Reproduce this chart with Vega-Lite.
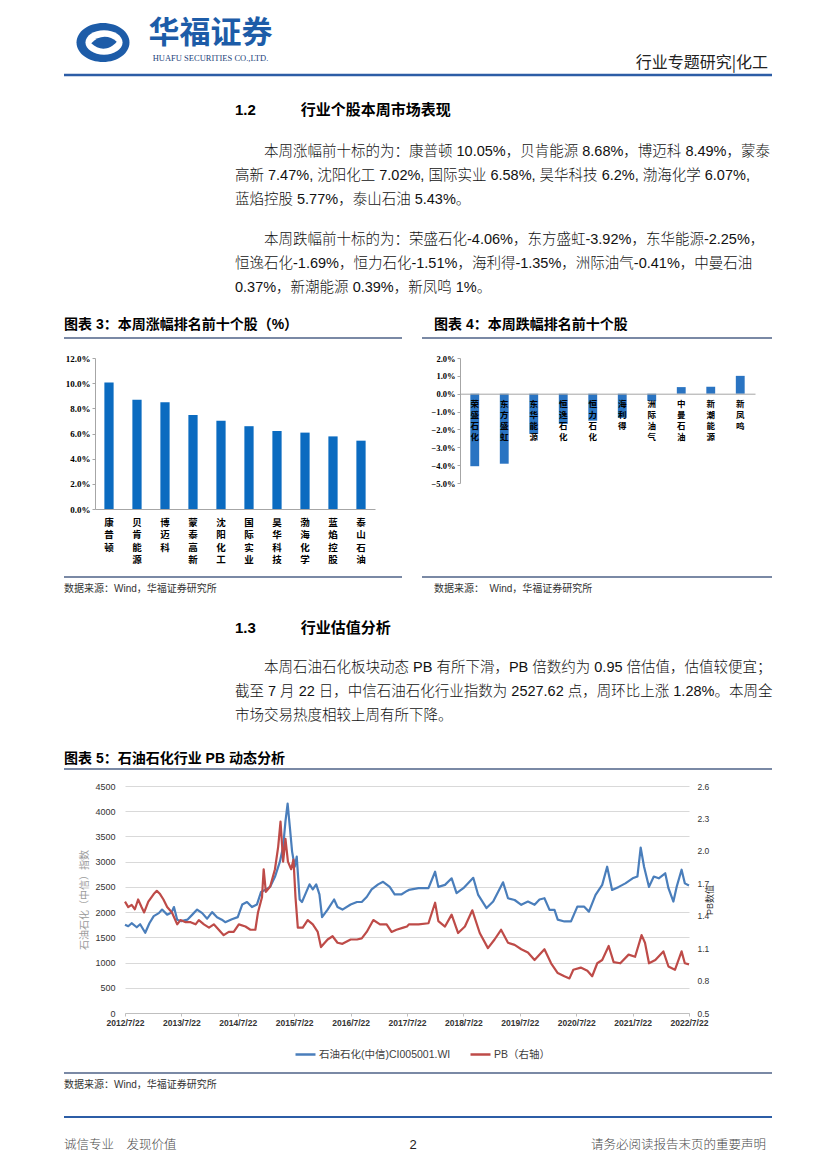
{
"$schema": "https://vega.github.io/schema/vega-lite/v6.json",
"background": "#ffffff",
"padding": {"left": 62, "top": 0, "right": 0, "bottom": 0},
"spacing": 0,
"bounds": "flush",
"config": {"view": {"stroke": null}, "font": "Noto Sans CJK SC", "concat": {"spacing": 0}},
"datasets": {
"idx": [
{"d":"2012-07-22","v":1750},{"d":"2012-08-12","v":1720},{"d":"2012-09-03","v":1780},{"d":"2012-10-06","v":1700},{"d":"2012-10-28","v":1760},{"d":"2012-11-30","v":1590},{"d":"2012-12-27","v":1780},{"d":"2013-01-24","v":1920},{"d":"2013-02-26","v":1980},{"d":"2013-03-19","v":2050},{"d":"2013-04-21","v":1950},{"d":"2013-05-19","v":1990},{"d":"2013-06-04","v":2100},{"d":"2013-06-25","v":1850},{"d":"2013-07-22","v":1820},{"d":"2013-08-30","v":1850},{"d":"2013-10-01","v":1950},{"d":"2013-11-01","v":2050},{"d":"2013-12-04","v":1980},{"d":"2014-01-05","v":1870},{"d":"2014-02-06","v":2000},{"d":"2014-03-10","v":1900},{"d":"2014-04-10","v":1850},{"d":"2014-05-02","v":1800},{"d":"2014-06-14","v":1860},{"d":"2014-07-22","v":1900},{"d":"2014-08-20","v":2150},{"d":"2014-09-20","v":2200},{"d":"2014-10-22","v":2100},{"d":"2014-11-23","v":2150},{"d":"2014-12-20","v":2400},{"d":"2015-01-20","v":2450},{"d":"2015-02-17","v":2500},{"d":"2015-03-20","v":2700},{"d":"2015-04-21","v":3000},{"d":"2015-05-12","v":3300},{"d":"2015-05-27","v":3800},{"d":"2015-06-10","v":4150},{"d":"2015-06-24","v":3700},{"d":"2015-07-09","v":3200},{"d":"2015-07-26","v":2900},{"d":"2015-08-08","v":3100},{"d":"2015-08-27","v":2250},{"d":"2015-09-11","v":2200},{"d":"2015-10-09","v":2400},{"d":"2015-10-30","v":2550},{"d":"2015-11-20","v":2450},{"d":"2015-12-12","v":2550},{"d":"2016-01-02","v":2350},{"d":"2016-01-19","v":1900},{"d":"2016-02-24","v":2050},{"d":"2016-04-06","v":2250},{"d":"2016-04-28","v":2100},{"d":"2016-05-30","v":2050},{"d":"2016-07-22","v":2150},{"d":"2016-09-01","v":2200},{"d":"2016-10-02","v":2200},{"d":"2016-11-03","v":2300},{"d":"2016-12-05","v":2450},{"d":"2017-01-16","v":2550},{"d":"2017-02-17","v":2600},{"d":"2017-04-01","v":2500},{"d":"2017-05-03","v":2350},{"d":"2017-06-15","v":2350},{"d":"2017-07-22","v":2420},{"d":"2017-08-03","v":2440},{"d":"2017-10-05","v":2475},{"d":"2017-12-08","v":2475},{"d":"2018-01-20","v":2800},{"d":"2018-02-10","v":2500},{"d":"2018-03-25","v":2540},{"d":"2018-05-07","v":2670},{"d":"2018-06-08","v":2375},{"d":"2018-07-22","v":2475},{"d":"2018-09-24","v":2680},{"d":"2018-10-26","v":2340},{"d":"2018-12-19","v":2080},{"d":"2019-01-31","v":2210},{"d":"2019-04-05","v":2590},{"d":"2019-05-07","v":2275},{"d":"2019-06-19","v":2240},{"d":"2019-08-01","v":2145},{"d":"2019-09-13","v":2210},{"d":"2019-10-26","v":2145},{"d":"2019-11-27","v":2250},{"d":"2019-12-29","v":2275},{"d":"2020-01-31","v":2045},{"d":"2020-03-03","v":2045},{"d":"2020-03-24","v":1850},{"d":"2020-05-06","v":1815},{"d":"2020-06-18","v":1815},{"d":"2020-07-29","v":2110},{"d":"2020-09-10","v":2110},{"d":"2020-10-12","v":2010},{"d":"2020-11-24","v":2340},{"d":"2021-01-06","v":2540},{"d":"2021-02-07","v":2900},{"d":"2021-03-11","v":2440},{"d":"2021-04-23","v":2500},{"d":"2021-06-05","v":2570},{"d":"2021-07-22","v":2670},{"d":"2021-08-22","v":2705},{"d":"2021-09-12","v":3280},{"d":"2021-10-04","v":2900},{"d":"2021-11-05","v":2500},{"d":"2021-12-06","v":2705},{"d":"2022-01-07","v":2670},{"d":"2022-02-18","v":2770},{"d":"2022-03-11","v":2475},{"d":"2022-04-12","v":2210},{"d":"2022-05-03","v":2500},{"d":"2022-06-04","v":2840},{"d":"2022-06-25","v":2570},{"d":"2022-07-22","v":2528}
],
"pb": [
{"d":"2012-07-22","v":1.53},{"d":"2012-08-12","v":1.48},{"d":"2012-09-03","v":1.50},{"d":"2012-09-24","v":1.46},{"d":"2012-10-15","v":1.55},{"d":"2012-11-06","v":1.48},{"d":"2012-11-23","v":1.43},{"d":"2012-12-20","v":1.53},{"d":"2013-01-24","v":1.60},{"d":"2013-02-13","v":1.63},{"d":"2013-03-06","v":1.60},{"d":"2013-03-28","v":1.55},{"d":"2013-04-21","v":1.48},{"d":"2013-05-22","v":1.43},{"d":"2013-06-25","v":1.32},{"d":"2013-07-16","v":1.36},{"d":"2013-08-19","v":1.34},{"d":"2013-09-20","v":1.34},{"d":"2013-10-22","v":1.32},{"d":"2013-11-12","v":1.36},{"d":"2013-12-15","v":1.32},{"d":"2014-01-17","v":1.29},{"d":"2014-02-17","v":1.32},{"d":"2014-03-21","v":1.27},{"d":"2014-04-22","v":1.22},{"d":"2014-05-25","v":1.25},{"d":"2014-06-26","v":1.25},{"d":"2014-07-29","v":1.32},{"d":"2014-09-10","v":1.30},{"d":"2014-10-12","v":1.27},{"d":"2014-11-13","v":1.27},{"d":"2014-11-30","v":1.43},{"d":"2014-12-26","v":1.57},{"d":"2015-01-06","v":1.83},{"d":"2015-01-20","v":1.62},{"d":"2015-02-17","v":1.67},{"d":"2015-03-20","v":1.83},{"d":"2015-04-10","v":2.04},{"d":"2015-04-25","v":2.27},{"d":"2015-05-12","v":1.90},{"d":"2015-05-27","v":2.11},{"d":"2015-06-12","v":1.90},{"d":"2015-07-03","v":1.83},{"d":"2015-07-18","v":1.92},{"d":"2015-07-31","v":1.57},{"d":"2015-08-15","v":1.29},{"d":"2015-09-16","v":1.29},{"d":"2015-10-18","v":1.36},{"d":"2015-11-20","v":1.32},{"d":"2015-12-22","v":1.25},{"d":"2016-01-12","v":1.11},{"d":"2016-02-24","v":1.18},{"d":"2016-03-27","v":1.21},{"d":"2016-04-28","v":1.15},{"d":"2016-05-30","v":1.14},{"d":"2016-07-22","v":1.18},{"d":"2016-09-01","v":1.18},{"d":"2016-10-02","v":1.19},{"d":"2016-11-03","v":1.25},{"d":"2016-12-16","v":1.36},{"d":"2017-01-28","v":1.32},{"d":"2017-03-12","v":1.32},{"d":"2017-04-13","v":1.25},{"d":"2017-05-15","v":1.27},{"d":"2017-06-28","v":1.29},{"d":"2017-07-22","v":1.30},{"d":"2017-08-03","v":1.32},{"d":"2017-10-05","v":1.32},{"d":"2017-12-08","v":1.33},{"d":"2018-01-20","v":1.52},{"d":"2018-02-10","v":1.35},{"d":"2018-03-25","v":1.30},{"d":"2018-05-07","v":1.41},{"d":"2018-06-18","v":1.24},{"d":"2018-08-01","v":1.30},{"d":"2018-09-18","v":1.45},{"d":"2018-11-05","v":1.24},{"d":"2018-12-28","v":1.10},{"d":"2019-02-09","v":1.18},{"d":"2019-03-23","v":1.27},{"d":"2019-05-07","v":1.15},{"d":"2019-06-19","v":1.13},{"d":"2019-08-01","v":1.09},{"d":"2019-09-13","v":1.06},{"d":"2019-10-26","v":0.99},{"d":"2019-12-29","v":1.09},{"d":"2020-02-10","v":0.96},{"d":"2020-03-24","v":0.87},{"d":"2020-05-06","v":0.84},{"d":"2020-06-08","v":0.82},{"d":"2020-07-03","v":0.90},{"d":"2020-08-20","v":0.92},{"d":"2020-10-02","v":0.89},{"d":"2020-11-02","v":0.84},{"d":"2020-12-05","v":0.96},{"d":"2021-01-06","v":0.99},{"d":"2021-02-17","v":1.12},{"d":"2021-03-21","v":0.97},{"d":"2021-05-03","v":0.96},{"d":"2021-06-26","v":1.04},{"d":"2021-08-07","v":1.02},{"d":"2021-09-18","v":1.22},{"d":"2021-10-10","v":1.15},{"d":"2021-11-05","v":0.96},{"d":"2021-12-16","v":0.99},{"d":"2022-02-06","v":1.07},{"d":"2022-03-11","v":0.93},{"d":"2022-04-22","v":0.90},{"d":"2022-06-04","v":1.07},{"d":"2022-06-25","v":0.96},{"d":"2022-07-22","v":0.95}
]
},
"vconcat": [
{"width": 708, "height": 75, "layer": [
  {"data": {"values": [{}]}, "mark": {"type": "point", "shape": "M-1,0A1,0.736,0,1,1,1,0A1,0.736,0,1,1,-1,0Z", "size": 2809, "filled": true, "color": "#1D5CA8", "opacity": 1}, "encoding": {"x": {"value": 39}, "y": {"value": 42.5}}},
  {"data": {"values": [{}]}, "mark": {"type": "point", "shape": "M-0.7,0A0.7,0.46,0,1,1,0.7,0A0.7,0.46,0,1,1,-0.7,0Z", "size": 2809, "filled": true, "color": "#ffffff", "opacity": 1}, "encoding": {"x": {"value": 40}, "y": {"value": 42.5}}},
  {"data": {"values": [{}]}, "mark": {"type": "point", "shape": "M-0.48,0.03C-0.2,-0.29,0.2,-0.29,0.48,-0.03C0.2,0.31,-0.2,0.31,-0.48,0.03Z", "size": 2809, "filled": true, "color": "#1D5CA8", "opacity": 1}, "encoding": {"x": {"value": 40}, "y": {"value": 42.5}}},
  {"data": {"values": [{"t": "华福证券"}]}, "mark": {"type": "text", "font": "Noto Sans CJK SC", "fontWeight": "bold", "fontSize": 31, "color": "#1D5CA8", "baseline": "middle", "align": "center"}, "encoding": {"text": {"field": "t"}, "x": {"value": 146.5}, "y": {"value": 34}}},
  {"data": {"values": [{"t": "HUAFU SECURITIES CO.,LTD."}]}, "mark": {"type": "text", "font": "Liberation Serif", "fontSize": 8.5, "color": "#1D3F7A", "baseline": "middle", "align": "center"}, "encoding": {"text": {"field": "t"}, "x": {"value": 146.5}, "y": {"value": 57.5}}},
  {"data": {"values": [{"t": "行业专题研究|化工"}]}, "mark": {"type": "text", "font": "Noto Sans CJK SC", "fontSize": 16, "color": "#222222", "baseline": "middle", "align": "right", "dx": -4}, "encoding": {"text": {"field": "t"}, "x": {"value": "width"}, "y": {"value": 63}}}
]},
{"width": 708, "height": 1, "data": {"values": [{}]}, "mark": {"type": "rule", "color": "#2C5DA6", "strokeWidth": 2.5}, "encoding": {"y": {"value": 0}}},
{"width": 708, "height": 64, "data": {"values": [{"t": "1.2\u3000\u3000\u3000行业个股本周市场表现"}]}, "mark": {"type": "text", "align": "left", "baseline": "middle", "font": "Liberation Sans, Noto Sans CJK SC", "fontWeight": "bold", "fontSize": 15, "dy": 2, "color": "#000000"}, "encoding": {"text": {"field": "t"}, "x": {"value": 171}}},
{"width": 708, "height": 72, "data": {"values": [
    {"i": 1, "t": "本周涨幅前十标的为：康普顿 10.05%，贝肯能源 8.68%，博迈科 8.49%，蒙泰"},
    {"i": 2, "t": "高新 7.47%, 沈阳化工 7.02%, 国际实业 6.58%, 昊华科技 6.2%, 渤海化学 6.07%,"},
    {"i": 3, "t": "蓝焰控股 5.77%，泰山石油 5.43%。"}]},
 "layer": [
  {"transform": [{"filter": "datum.i == 1"}], "mark": {"type": "text", "align": "left", "baseline": "middle", "font": "Liberation Sans, Noto Sans CJK SC", "fontSize": 14.5, "fontWeight": 300, "color": "#111111", "dx": 29},
   "encoding": {"text": {"field": "t"}, "x": {"value": 171}, "y": {"field": "i", "type": "ordinal", "axis": null, "scale": {"type": "point", "padding": 0.5, "domain": [1, 2, 3]}}}},
  {"transform": [{"filter": "datum.i > 1"}], "mark": {"type": "text", "align": "left", "baseline": "middle", "font": "Liberation Sans, Noto Sans CJK SC", "fontSize": 14.5, "fontWeight": 300, "color": "#111111"},
   "encoding": {"text": {"field": "t"}, "x": {"value": 171}, "y": {"field": "i", "type": "ordinal", "axis": null}}}
 ]},
{"width": 1, "height": 16, "data": {"values": []}, "mark": "text"},
{"width": 708, "height": 72, "data": {"values": [
    {"i": 1, "t": "本周跌幅前十标的为：荣盛石化-4.06%，东方盛虹-3.92%，东华能源-2.25%，"},
    {"i": 2, "t": "恒逸石化-1.69%，恒力石化-1.51%，海利得-1.35%，洲际油气-0.41%，中曼石油"},
    {"i": 3, "t": "0.37%，新潮能源 0.39%，新凤鸣 1%。"}]},
 "layer": [
  {"transform": [{"filter": "datum.i == 1"}], "mark": {"type": "text", "align": "left", "baseline": "middle", "font": "Liberation Sans, Noto Sans CJK SC", "fontSize": 14.5, "fontWeight": 300, "color": "#111111", "dx": 29},
   "encoding": {"text": {"field": "t"}, "x": {"value": 171}, "y": {"field": "i", "type": "ordinal", "axis": null, "scale": {"type": "point", "padding": 0.5, "domain": [1, 2, 3]}}}},
  {"transform": [{"filter": "datum.i > 1"}], "mark": {"type": "text", "align": "left", "baseline": "middle", "font": "Liberation Sans, Noto Sans CJK SC", "fontSize": 14.5, "fontWeight": 300, "color": "#111111"},
   "encoding": {"text": {"field": "t"}, "x": {"value": 171}, "y": {"field": "i", "type": "ordinal", "axis": null}}}
 ]},
{"width": 708, "height": 38, "layer": [
  {"data": {"values": [{"t": "图表 3：本周涨幅排名前十个股（%）"}]}, "mark": {"type": "text", "align": "left", "baseline": "middle", "font": "Liberation Sans, Noto Sans CJK SC", "fontWeight": "bold", "fontSize": 14, "dy": 6, "color": "#000000"}, "encoding": {"text": {"field": "t"}, "x": {"value": 0}}},
  {"data": {"values": [{"t": "图表 4：本周跌幅排名前十个股"}]}, "mark": {"type": "text", "align": "left", "baseline": "middle", "font": "Liberation Sans, Noto Sans CJK SC", "fontWeight": "bold", "fontSize": 14, "dy": 6, "color": "#000000"}, "encoding": {"text": {"field": "t"}, "x": {"value": 370}}},
  {"data": {"values": [{}]}, "mark": {"type": "rule", "color": "#4E6287", "strokeWidth": 1.3}, "encoding": {"x": {"value": 0}, "x2": {"value": 338}, "y": {"value": "height"}}},
  {"data": {"values": [{}]}, "mark": {"type": "rule", "color": "#4E6287", "strokeWidth": 1.3}, "encoding": {"x": {"value": 358}, "x2": {"value": 708}, "y": {"value": "height"}}}
]},
{"width": 1, "height": 20, "data": {"values": []}, "mark": "text"},
{"width": 691, "height": 151,
 "layer": [
  {"data": {"values": [{"n": "康普顿", "v": 10.05}, {"n": "贝肯能源", "v": 8.68}, {"n": "博迈科", "v": 8.49}, {"n": "蒙泰高新", "v": 7.47}, {"n": "沈阳化工", "v": 7.02}, {"n": "国际实业", "v": 6.58}, {"n": "昊华科技", "v": 6.2}, {"n": "渤海化学", "v": 6.07}, {"n": "蓝焰控股", "v": 5.77}, {"n": "泰山石油", "v": 5.43}]},
   "mark": {"type": "bar", "color": "#0B6BC0", "width": {"band": 0.33}},
   "encoding": {
     "x": {"field": "n", "type": "nominal", "sort": null, "scale": {"paddingInner": 0, "paddingOuter": 0, "range": [31, 311]},
           "axis": {"orient": "bottom", "title": null, "labelAngle": 0, "ticks": false, "domainColor": "#A6A6A6", "labelExpr": "split(datum.label, '')", "labelFont": "Noto Sans CJK SC", "labelFontWeight": "bold", "labelFontSize": 9.5, "labelLineHeight": 12.5, "labelPadding": 8, "labelColor": "#000000", "labelOverlap": false, "labelBaseline": "top"}},
     "y": {"field": "v", "type": "quantitative", "scale": {"domain": [0, 12]},
           "axis": {"orient": "left", "offset": -31, "title": null, "values": [0, 2, 4, 6, 8, 10, 12], "labelExpr": "format(datum.value, '.1f') + '%'", "grid": false, "domainColor": "#A6A6A6", "tickColor": "#A6A6A6", "tickSize": 3, "labelFont": "Liberation Serif", "labelFontWeight": "bold", "labelFontSize": 9, "labelColor": "#000000", "labelPadding": 2}}
   }},
  {"data": {"values": [{"n": "荣盛石化", "v": -4.06}, {"n": "东方盛虹", "v": -3.92}, {"n": "东华能源", "v": -2.25}, {"n": "恒逸石化", "v": -1.69}, {"n": "恒力石化", "v": -1.51}, {"n": "海利得", "v": -1.35}, {"n": "洲际油气", "v": -0.41}, {"n": "中曼石油", "v": 0.37}, {"n": "新潮能源", "v": 0.39}, {"n": "新凤鸣", "v": 1.0}]},
   "mark": {"type": "bar", "color": "#2A74C2", "width": {"band": 0.3}},
   "encoding": {
     "x": {"field": "n", "type": "nominal", "sort": null, "scale": {"paddingInner": 0, "paddingOuter": 0, "range": [396, 691]},
           "axis": {"orient": "bottom", "offset": -115.3, "zindex": 1, "title": null, "labelAngle": 0, "ticks": false, "domainColor": "#A6A6A6", "labelExpr": "split(datum.label, '')", "labelFont": "Noto Sans CJK SC", "labelFontWeight": "bold", "labelFontSize": 8.5, "labelLineHeight": 11, "labelPadding": 6, "labelColor": "#000000", "labelOverlap": false, "labelBaseline": "top"}},
     "y": {"field": "v", "type": "quantitative", "scale": {"domain": [-5, 2], "range": [125, 0]},
           "axis": {"orient": "left", "offset": -396, "title": null, "values": [-5, -4, -3, -2, -1, 0, 1, 2], "labelExpr": "format(datum.value, '.1f') + '%'", "grid": false, "domainColor": "#A6A6A6", "tickColor": "#A6A6A6", "tickSize": 3, "labelFont": "Liberation Serif", "labelFontWeight": "bold", "labelFontSize": 8.5, "labelColor": "#000000", "labelPadding": 2}}
   }}
 ],
 "resolve": {"scale": {"x": "independent", "y": "independent"}, "axis": {"x": "independent", "y": "independent"}}
},
{"width": 1, "height": 68, "data": {"values": []}, "mark": "text"},
{"width": 708, "height": 23, "layer": [
  {"data": {"values": [{}]}, "mark": {"type": "rule", "color": "#4E6287", "strokeWidth": 1.3}, "encoding": {"x": {"value": 0}, "x2": {"value": 338}, "y": {"value": 0}}},
  {"data": {"values": [{}]}, "mark": {"type": "rule", "color": "#4E6287", "strokeWidth": 1.3}, "encoding": {"x": {"value": 358}, "x2": {"value": 708}, "y": {"value": 0}}},
  {"data": {"values": [{"t": "数据来源：Wind，华福证券研究所"}]}, "mark": {"type": "text", "align": "left", "baseline": "middle", "font": "Liberation Sans, Noto Sans CJK SC", "fontSize": 10, "color": "#333333"}, "encoding": {"text": {"field": "t"}, "x": {"value": 0}}},
  {"data": {"values": [{"t": "数据来源：\u00a0\u00a0Wind，华福证券研究所"}]}, "mark": {"type": "text", "align": "left", "baseline": "middle", "font": "Liberation Sans, Noto Sans CJK SC", "fontSize": 10, "color": "#333333"}, "encoding": {"text": {"field": "t"}, "x": {"value": 370}}}
]},
{"width": 708, "height": 56, "data": {"values": [{"t": "1.3\u3000\u3000\u3000行业估值分析"}]}, "mark": {"type": "text", "align": "left", "baseline": "middle", "font": "Liberation Sans, Noto Sans CJK SC", "fontWeight": "bold", "fontSize": 15, "color": "#000000"}, "encoding": {"text": {"field": "t"}, "x": {"value": 171}}},
{"width": 708, "height": 72, "data": {"values": [
    {"i": 1, "t": "本周石油石化板块动态 PB 有所下滑，PB 倍数约为 0.95 倍估值，估值较便宜；"},
    {"i": 2, "t": "截至 7 月 22 日，中信石油石化行业指数为 2527.62 点，周环比上涨 1.28%。本周全"},
    {"i": 3, "t": "市场交易热度相较上周有所下降。"}]},
 "layer": [
  {"transform": [{"filter": "datum.i == 1"}], "mark": {"type": "text", "align": "left", "baseline": "middle", "font": "Liberation Sans, Noto Sans CJK SC", "fontSize": 14.5, "fontWeight": 300, "color": "#111111", "dx": 29},
   "encoding": {"text": {"field": "t"}, "x": {"value": 171}, "y": {"field": "i", "type": "ordinal", "axis": null, "scale": {"type": "point", "padding": 0.5, "domain": [1, 2, 3]}}}},
  {"transform": [{"filter": "datum.i > 1"}], "mark": {"type": "text", "align": "left", "baseline": "middle", "font": "Liberation Sans, Noto Sans CJK SC", "fontSize": 14.5, "fontWeight": 300, "color": "#111111"},
   "encoding": {"text": {"field": "t"}, "x": {"value": 171}, "y": {"field": "i", "type": "ordinal", "axis": null}}}
 ]},
{"width": 708, "height": 41, "layer": [
  {"data": {"values": [{"t": "图表 5：石油石化行业 PB 动态分析"}]}, "mark": {"type": "text", "align": "left", "baseline": "middle", "font": "Liberation Sans, Noto Sans CJK SC", "fontWeight": "bold", "fontSize": 14, "dy": 10.5, "color": "#000000"}, "encoding": {"text": {"field": "t"}, "x": {"value": 0}}},
  {"data": {"values": [{}]}, "mark": {"type": "rule", "color": "#4E6287", "strokeWidth": 1.3}, "encoding": {"y": {"value": "height"}}}
]},
{"width": 1, "height": 17, "data": {"values": []}, "mark": "text"},
{"width": 625, "height": 227,
 "layer": [
   {"data": {"name": "idx"},
    "mark": {"type": "line", "strokeWidth": 2.2, "strokeJoin": "round"},
    "encoding": {
      "x": {"field": "d", "type": "temporal",
            "scale": {"type": "utc", "range": [61, 625], "domain": [{"year": 2012, "month": 7, "date": 22, "utc": true}, {"year": 2022, "month": 7, "date": 22, "utc": true}]},
            "axis": {"title": null, "values": [{"year": 2012, "month": 7, "date": 22, "utc": true}, {"year": 2013, "month": 7, "date": 22, "utc": true}, {"year": 2014, "month": 7, "date": 22, "utc": true}, {"year": 2015, "month": 7, "date": 22, "utc": true}, {"year": 2016, "month": 7, "date": 22, "utc": true}, {"year": 2017, "month": 7, "date": 22, "utc": true}, {"year": 2018, "month": 7, "date": 22, "utc": true}, {"year": 2019, "month": 7, "date": 22, "utc": true}, {"year": 2020, "month": 7, "date": 22, "utc": true}, {"year": 2021, "month": 7, "date": 22, "utc": true}, {"year": 2022, "month": 7, "date": 22, "utc": true}],
                     "labelExpr": "utcFormat(datum.value, '%Y/%-m/%-d')", "labelFlush": false, "labelOverlap": false, "grid": false, "domainColor": "#BFBFBF", "tickColor": "#BFBFBF", "tickSize": 3, "labelFont": "Liberation Sans", "labelFontSize": 8.5, "labelFontWeight": "bold", "labelColor": "#333333", "labelPadding": 2}},
      "y": {"field": "v", "type": "quantitative", "scale": {"domain": [0, 4500]},
            "axis": {"orient": "left", "offset": -61, "title": "石油石化（中信）指数", "values": [0, 500, 1000, 1500, 2000, 2500, 3000, 3500, 4000, 4500], "format": "d", "grid": true, "gridColor": "#D9D9D9", "domain": false, "ticks": false, "labelPadding": 10, "labelFont": "Liberation Sans", "labelFontSize": 9, "labelColor": "#333333", "titleFont": "Noto Sans CJK SC", "titleFontSize": 10, "titleFontWeight": "normal", "titleColor": "#9A9A9A", "titlePadding": 5}},
      "color": {"datum": "石油石化(中信)CI005001.WI", "type": "nominal",
                "scale": {"domain": ["石油石化(中信)CI005001.WI", "PB（右轴）"], "range": ["#4A7EBB", "#BE4B48"]},
                "legend": {"orient": "none", "legendX": 230, "legendY": 1043, "direction": "horizontal", "title": null, "symbolType": "stroke", "symbolStrokeWidth": 2.5, "symbolSize": 400, "labelFont": "Liberation Sans, Noto Sans CJK SC", "labelFontSize": 10.5, "labelColor": "#404040", "columnPadding": 14, "labelOffset": 2, "padding": 0}}
    }},
   {"data": {"name": "pb"},
    "mark": {"type": "line", "strokeWidth": 2.2, "strokeJoin": "round"},
    "encoding": {
      "x": {"field": "d", "type": "temporal"},
      "y": {"field": "v", "type": "quantitative", "scale": {"domain": [0.5, 2.6]},
            "axis": {"orient": "right", "title": "PB数值", "titleAngle": 270, "values": [0.5, 0.8, 1.1, 1.4, 1.7, 2.0, 2.3, 2.6], "format": ".1f", "grid": false, "domain": false, "ticks": false, "labelPadding": 8, "labelFont": "Liberation Sans", "labelFontSize": 8.5, "labelColor": "#333333", "titleFont": "Liberation Sans, Noto Sans CJK SC", "titleFontSize": 9, "titleFontWeight": "normal", "titleColor": "#333333", "titlePadding": 6}},
      "color": {"datum": "PB（右轴）", "type": "nominal"}
    }}
 ],
 "resolve": {"scale": {"y": "independent"}}
},
{"width": 1, "height": 60, "data": {"values": []}, "mark": "text"},
{"width": 708, "height": 23, "layer": [
  {"data": {"values": [{}]}, "mark": {"type": "rule", "color": "#4E6287", "strokeWidth": 1.3}, "encoding": {"y": {"value": 0}}},
  {"data": {"values": [{"t": "数据来源：Wind，华福证券研究所"}]}, "mark": {"type": "text", "align": "left", "baseline": "middle", "font": "Liberation Sans, Noto Sans CJK SC", "fontSize": 10, "color": "#333333"}, "encoding": {"text": {"field": "t"}, "x": {"value": 0}}}
]},
{"width": 1, "height": 21, "data": {"values": []}, "mark": "text"},
{"width": 708, "height": 52, "layer": [
  {"data": {"values": [{}]}, "mark": {"type": "rule", "color": "#2C5DA6", "strokeWidth": 2}, "encoding": {"y": {"value": 0}}},
  {"data": {"values": [{"t": "诚信专业\u3000发现价值"}]}, "mark": {"type": "text", "align": "left", "baseline": "middle", "font": "Noto Sans CJK SC", "fontSize": 12.5, "fontWeight": 300, "dy": 2, "color": "#4A4A4A"}, "encoding": {"text": {"field": "t"}, "x": {"value": 0}}},
  {"data": {"values": [{"t": "2"}]}, "mark": {"type": "text", "align": "center", "baseline": "middle", "font": "Liberation Sans", "fontSize": 13, "dy": 2, "color": "#222222"}, "encoding": {"text": {"field": "t"}, "x": {"value": 349}}},
  {"data": {"values": [{"t": "请务必阅读报告末页的重要声明"}]}, "mark": {"type": "text", "align": "right", "baseline": "middle", "font": "Noto Sans CJK SC", "fontSize": 12.5, "fontWeight": 300, "dy": 2, "dx": -6, "color": "#4A4A4A"}, "encoding": {"text": {"field": "t"}, "x": {"value": "width"}}}
]}
]
}
